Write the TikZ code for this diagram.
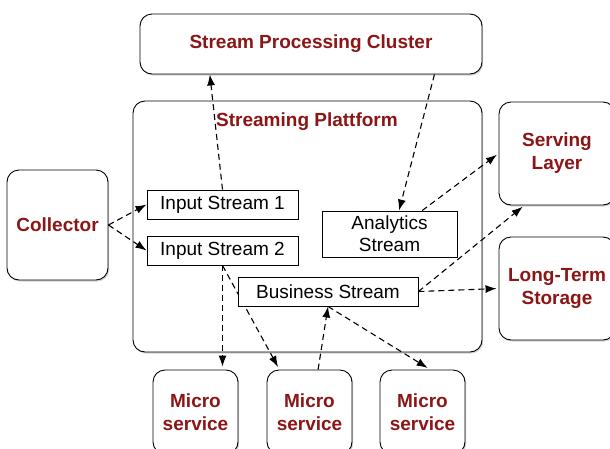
\documentclass[tikz,border=0pt]{standalone}
\usepackage{fontspec}
\setmainfont{Liberation Sans}
\usetikzlibrary{arrows.meta,shadows,calc}
\definecolor{lbl}{RGB}{140,22,22}
\pgfdeclarelayer{bg}
\pgfdeclarelayer{mid}
\pgfsetlayers{bg,mid,main}
\begin{document}
\begin{tikzpicture}[x=1pt,y=-1pt,
  rbox/.style={draw=black, line width=0.9pt, rounded corners=12pt, fill=white,
    drop shadow={shadow xshift=1.2pt,shadow yshift=-1.5pt,opacity=0.35},
    inner sep=0pt, font=\fontsize{19}{23}\selectfont\bfseries, text=lbl, align=center},
  ttl/.style={inner sep=0pt, font=\fontsize{19}{23}\selectfont\bfseries, text=lbl},
  sbox/.style={draw=black, line width=0.9pt, fill=white, inner sep=0pt,
    font=\fontsize{19}{22}\selectfont, align=center,
    drop shadow={shadow xshift=0.8pt,shadow yshift=-0.8pt,opacity=0.25}},
  arr/.style={-{Latex[length=11pt,width=8pt]}, line width=1.1pt, dash pattern=on 6pt off 4pt},
  gap/.style={shorten >=3pt}]
\useasboundingbox (0,0) rectangle (610,448);
\begin{pgfonlayer}{bg}
\node[rbox, minimum width=342pt, minimum height=60pt] (spc) at (311,44) {Stream Processing Cluster};
\node[rbox, minimum width=349pt, minimum height=251pt] (plat) at (307.5,226.5) {};
\node[ttl] (plattitle) at (307,122) {Streaming Plattform};
\node[rbox, minimum width=116pt, minimum height=103pt] (srv) at (557,153.5) {Serving\\Layer};
\node[rbox, minimum width=116pt, minimum height=103pt] (lts) at (557,288.5) {Long-Term\\Storage};
\node[rbox, minimum width=101pt, minimum height=110pt] (col) at (57.5,225) {Collector};
\node[rbox, minimum width=85pt, minimum height=84pt] (m1) at (195.5,412) {Micro\\service};
\node[rbox, minimum width=85pt, minimum height=84pt] (m2) at (309.5,412) {Micro\\service};
\node[rbox, minimum width=85pt, minimum height=84pt] (m3) at (422.5,412) {Micro\\service};
\end{pgfonlayer}
\node[sbox, minimum width=151pt, minimum height=29pt] (in1) at (222.5,204.5) {Input Stream 1};
\node[sbox, minimum width=151pt, minimum height=29pt] (in2) at (222.5,250.5) {Input Stream 2};
\node[sbox, minimum width=135pt, minimum height=46pt] (ana) at (389.5,234) {Analytics\\Stream};
\node[sbox, minimum width=180pt, minimum height=29pt] (bus) at (328,291.5) {Business Stream};
\begin{pgfonlayer}{mid}
\draw[arr] (col.east) -- (in1.west);
\draw[arr] (col.east) -- (in2.west);
\draw[arr] (in1.north) -- ($(spc.south west)!0.205!(spc.south east)$);
\draw[arr] ($(spc.south west)!0.86!(spc.south east)$) -- ($(ana.north west)!0.57!(ana.north east)$);
\draw[arr, shorten >=2pt] ($(ana.north west)!0.74!(ana.north east)$) -- (srv.west);
\draw[arr, shorten >=2pt] (bus.east) -- ($(srv.south west)!0.22!(srv.south east)$);
\draw[arr, shorten >=2pt] (bus.east) -- (lts.west);
\draw[arr, gap] (in2.south) -- (in2.south |- m1.north);
\draw[arr, gap] (in2.south) -- ($(m2.north west)!0.15!(m2.north east)$);
\draw[arr] ($(m2.north west)!0.6!(m2.north east)$) -- (bus.south);
\draw[arr, gap] (bus.south) -- ($(m3.north west)!0.59!(m3.north east)$);
\end{pgfonlayer}
\end{tikzpicture}
\end{document}
